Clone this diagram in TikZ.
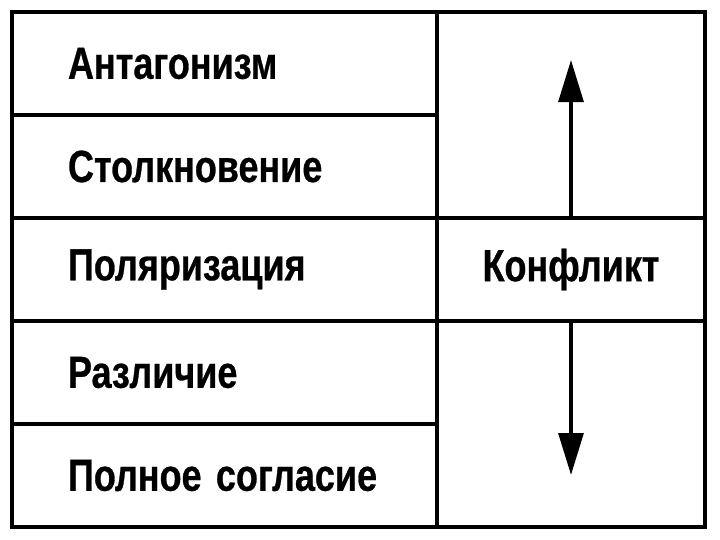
\documentclass[tikz,border=0pt]{standalone}
\usepackage{fontspec}
\setmainfont{Liberation Sans}[FakeStretch=0.8, BoldFeatures={FakeBold=0.6}]
\usetikzlibrary{positioning,arrows.meta}

\begin{document}
\begin{tikzpicture}[
    cell/.style={draw, line width=3pt, outer sep=0pt, inner sep=0pt,
        minimum height=2.575cm, font=\bfseries\fontsize{32}{36}\selectfont,
        execute at begin node={\spaceskip=0.32em\relax}},
    lcell/.style={cell, minimum width=10.625cm, text width=7.825cm,
        align=left, inner xsep=1.4cm},
    rcell/.style={cell, minimum width=6.7cm},
    trend/.style={line width=2.6pt, -{Triangle[length=1.05cm,width=0.62cm]}}
]
    % page size
    \useasboundingbox (0,0) rectangle (18,-13.5);

    % left column
    \node[lcell, anchor=north west] (antag) at (0.3,-0.3) {Антагонизм};
    \node[lcell, below=0pt of antag] (stolk) {Столкновение};
    \node[lcell, below=0pt of stolk] (polar) {Поляризация};
    \node[lcell, below=0pt of polar] (razl) {Различие};
    \node[lcell, below=0pt of razl] (soglas) {Полное согласие};

    % right column
    \node[rcell, minimum height=5.15cm, anchor=north west] (upper) at (antag.north east) {};
    \node[rcell, right=0pt of polar] (konf) {Конфликт};
    \node[rcell, minimum height=5.15cm, anchor=north west] (lower) at (razl.north east) {};

    % arrows
    \coordinate (uptip) at ([yshift=3.95cm]konf.north);
    \coordinate (downtip) at ([yshift=-3.85cm]konf.south);
    \draw[trend] (konf.north) -- (uptip);
    \draw[trend] (konf.south) -- (downtip);
\end{tikzpicture}
\end{document}
